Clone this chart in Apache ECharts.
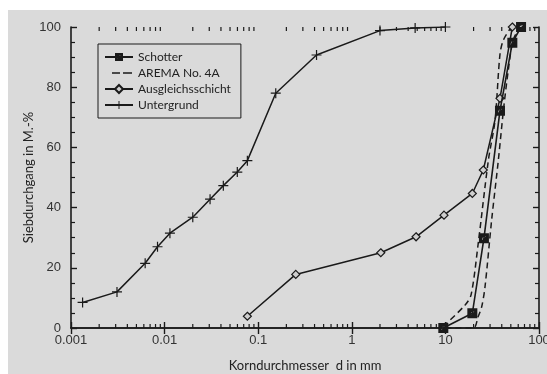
<!DOCTYPE html>
<html>
<head>
<meta charset="utf-8">
<script src="https://cdn.jsdelivr.net/npm/echarts@6/dist/echarts.min.js"></script>
<style>
  html, body { margin: 0; padding: 0; background: #fff; }
  #bg { position: absolute; left: 8px; top: 10px; width: 539px; height: 364px; background: #dadada; }
  #chart { position: absolute; left: 0; top: 0; width: 547px; height: 374px; }
</style>
</head>
<body>
<div id="bg"></div>
<div id="chart"></div>
<script>
// Korngrößenverteilung (d in mm, Siebdurchgang in M.-%)
const schotterD = [9.5, 19.4, 25.8, 38.3, 51.9, 64.3]
const schotterP = [0, 4.9, 29.8, 72.2, 94.8, 100]

const aremaUpperD = [9.5, 16.2, 18.8, 22.4, 28.8, 33.9, 38.3, 41.7, 50.7]
const aremaUpperP = [0.5, 7.6, 11, 28, 55.8, 69, 91, 95.7, 100]
const aremaLowerD = [10, 19.9, 22.4, 24.4, 26.5, 31.2, 36.8, 41.7, 47, 53, 63]
const aremaLowerP = [0, 0, 3.8, 7, 13.7, 35.9, 55.8, 72.4, 85.7, 95.7, 100]

const ausglD = [0.0766, 0.252, 2.04, 4.86, 9.66, 19.4, 25.4, 38.3, 51.9]
const ausglP = [3.9, 17.8, 25, 30.3, 37.5, 44.7, 52.5, 76.3, 100]

const untergrundD = [0.00133, 0.0031, 0.0062, 0.0084, 0.0114, 0.020, 0.0306, 0.0424, 0.0598, 0.0766, 0.154, 0.42, 2.0, 4.75, 10]
const untergrundP = [8.5, 12, 21.5, 27, 31.5, 36.8, 42.8, 47.3, 51.8, 55.6, 78, 90.7, 98.8, 99.7, 100]

const xTickLabels = { 0.001: '0.001', 0.01: '0.01', 0.1: '0.1', 1: '1', 10: '10', 100: '100' }

// minor log ticks 2..9 per decade
const minorTicks = []
for (let e = -3; e < 2; e++) {
  for (let m = 2; m <= 9; m++) minorTicks.push(+(m * Math.pow(10, e)).toPrecision(3))
}

const pairs = (xs, ys) => xs.map((x, i) => [x, ys[i]])

const INK = '#1a1a1a'
const CROSS = 'path://M4.4,0H5.6V4.4H10V5.6H5.6V10H4.4V5.6H0V4.4H4.4Z'
// filled square with a small light notch
const SQUARE = 'path://M0,0H10V10H0Z M3,7L7,3L4,4Z'
// two dashes for the legend entry
const DASHES = 'path://M0,0H0.01V1.4H0Z M7,0H15V1.4H7Z M18,0H27V1.4H18Z M27.99,0H28V1.4H27.99Z'

const chart = echarts.init(document.getElementById('chart'))

const axisLine = { show: true, lineStyle: { color: INK, width: 1.6 } }

chart.setOption({
  backgroundColor: 'transparent',
  animation: false,
  textStyle: { fontFamily: 'Liberation Sans, Arial, sans-serif' },
  grid: { left: 71, right: 8, top: 27, bottom: 46, outerBoundsMode: 'none', containLabel: false },
  legend: {
    orient: 'vertical',
    left: 98,
    top: 44,
    padding: [7, 10, 7, 6],
    itemGap: 4,
    itemWidth: 28,
    itemHeight: 10,
    borderColor: INK,
    borderWidth: 1,
    textStyle: { fontFamily: 'Lato, sans-serif', fontSize: 12, color: '#222' },
    data: ['Schotter', { name: 'AREMA No. 4A', icon: DASHES }, 'Ausgleichsschicht', 'Untergrund']
  },
  xAxis: [
    {
      type: 'log', logBase: 10, min: 0.001, max: 100,
      name: 'Korndurchmesser  d in mm', nameLocation: 'middle', nameGap: 31,
      nameTextStyle: { fontFamily: 'Lato, sans-serif', fontSize: 13, color: '#222' },
      axisLine,
      axisTick: { inside: true, length: 6, lineStyle: { color: INK, width: 1.4 } },
      axisLabel: { fontSize: 13, color: '#333', margin: 6, formatter: v => xTickLabels[v] ?? '' },
      splitLine: { show: false }
    },
    {
      type: 'log', logBase: 10, min: 0.001, max: 100, position: 'top',
      axisLine,
      axisTick: { inside: true, length: 6, lineStyle: { color: INK, width: 1.4 } },
      axisLabel: { show: false },
      splitLine: { show: false }
    }
  ],
  yAxis: [
    {
      type: 'value', min: 0, max: 100, interval: 20,
      name: 'Siebdurchgang in M.-%', nameLocation: 'middle', nameGap: 36, nameMoveOverlap: false,
      nameTextStyle: { fontFamily: 'Lato, sans-serif', fontSize: 13, color: '#222' },
      axisLine,
      axisTick: { inside: true, length: 6, lineStyle: { color: INK, width: 1.4 } },
      minorTick: { show: true, splitNumber: 4, length: 4, lineStyle: { color: INK, width: 1.2 } },
      axisLabel: { fontSize: 13, color: '#333', margin: 10 },
      splitLine: { show: false }
    },
    {
      type: 'value', min: 0, max: 100, interval: 20, position: 'right',
      axisLine,
      axisTick: { inside: true, length: 6, lineStyle: { color: INK, width: 1.4 } },
      minorTick: { show: true, splitNumber: 4, length: 4, lineStyle: { color: INK, width: 1.2 } },
      axisLabel: { show: false },
      splitLine: { show: false }
    }
  ],
  series: [
    {
      type: 'custom', silent: true, z: 1, legendHoverLink: false,
      data: minorTicks,
      encode: { x: 0 },
      renderItem: (params, api) => {
        const v = api.value(0)
        const b = api.coord([v, 0])
        const t = api.coord([v, 100])
        const style = { stroke: INK, lineWidth: 1.2 }
        return {
          type: 'group',
          children: [
            { type: 'line', shape: { x1: b[0], y1: b[1], x2: b[0], y2: b[1] - 4 }, style },
            { type: 'line', shape: { x1: t[0], y1: t[1], x2: t[0], y2: t[1] + 4 }, style }
          ]
        }
      }
    },
    {
      name: 'Untergrund', type: 'line', data: pairs(untergrundD, untergrundP),
      symbol: CROSS, symbolSize: 10, showAllSymbol: true,
      lineStyle: { color: INK, width: 1.5 }, itemStyle: { color: INK }, z: 3
    },
    {
      name: 'Ausgleichsschicht', type: 'line', data: pairs(ausglD, ausglP),
      symbol: 'diamond', symbolSize: 8, showAllSymbol: true,
      lineStyle: { color: INK, width: 1.5 },
      itemStyle: { color: '#cfcfcf', borderColor: INK, borderWidth: 1.2 }, z: 3
    },
    {
      name: 'AREMA No. 4A', type: 'line', data: pairs(aremaUpperD, aremaUpperP),
      symbol: 'none', smooth: 0.3,
      lineStyle: { color: INK, width: 1.5, type: [6, 4] }, itemStyle: { color: INK }, z: 2
    },
    {
      name: 'AREMA No. 4A', type: 'line', data: pairs(aremaLowerD, aremaLowerP),
      symbol: 'none', smooth: 0.3,
      lineStyle: { color: INK, width: 1.5, type: [6, 4] }, itemStyle: { color: INK }, z: 2
    },
    {
      name: 'Schotter', type: 'line', data: pairs(schotterD, schotterP),
      symbol: SQUARE, symbolSize: 10, showAllSymbol: true,
      lineStyle: { color: INK, width: 1.6 },
      itemStyle: { color: INK }, z: 4
    }
  ]
})
</script>
</body>
</html>
